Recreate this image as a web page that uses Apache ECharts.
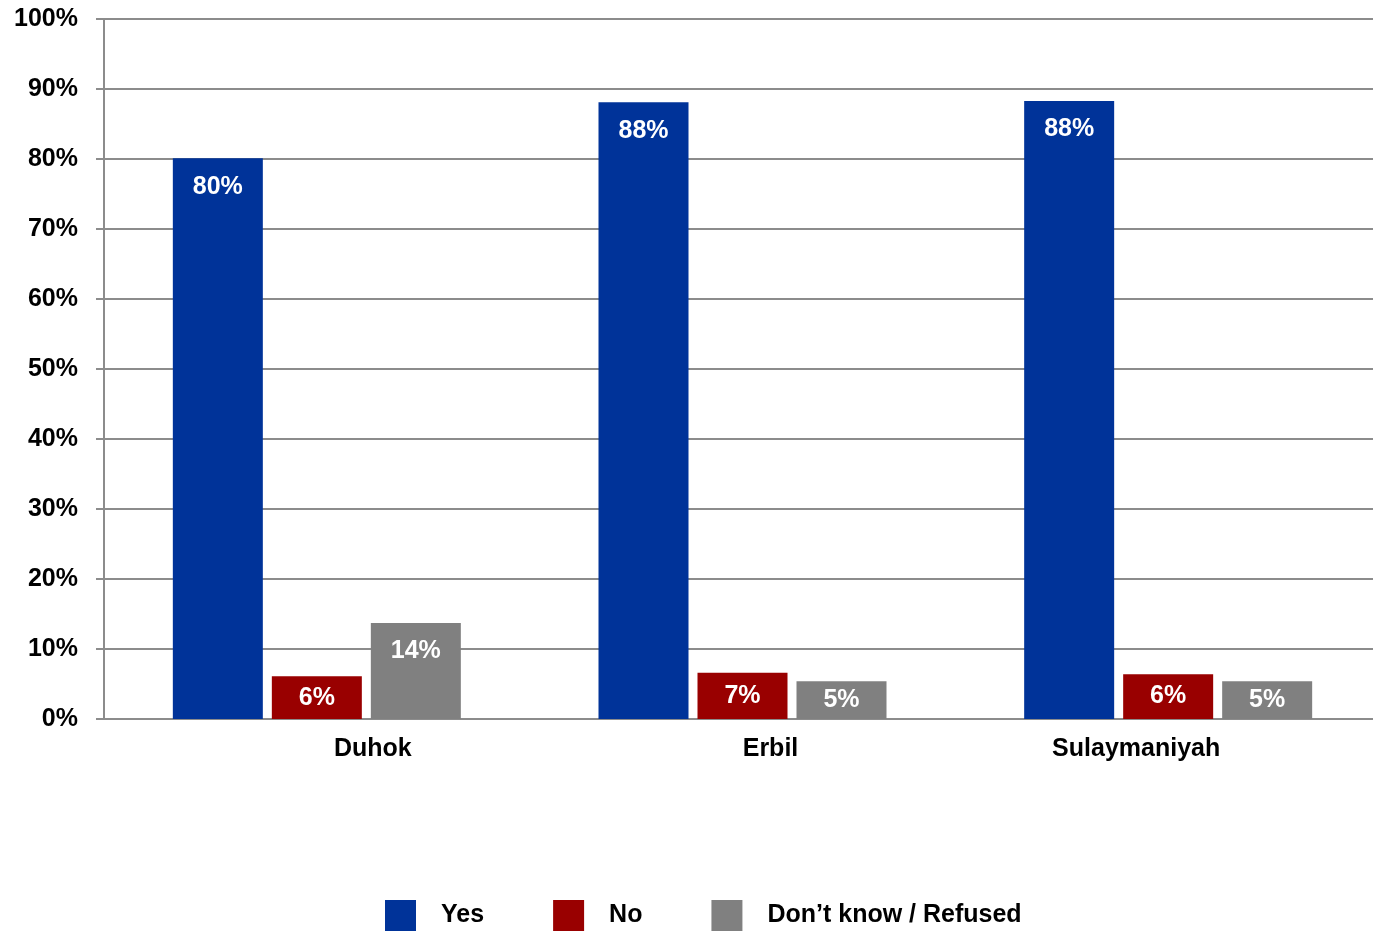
<!DOCTYPE html>
<html>
<head>
<meta charset="utf-8">
<script src="https://cdn.jsdelivr.net/npm/echarts@6/dist/echarts.min.js"></script>
<style>html,body{margin:0;padding:0;background:#fff;}#c{width:1373px;height:931px;}</style>
</head>
<body>
<div id="c"></div>
<script>
var categories = ['Duhok', 'Erbil', 'Sulaymaniyah'];
var seriesNames = ['Yes', 'No', 'Don\u2019t know / Refused'];
var yesValues = [80.1, 88.1, 88.3];
var noValues = [6.1, 6.6, 6.4];
var dkValues = [13.7, 5.4, 5.4];
var displayLabels = [['80%', '88%', '88%'], ['6%', '7%', '6%'], ['14%', '5%', '5%']];
var colors = ['#003399', '#990000', '#808080'];
var labelShift = {Duhok: 112, Erbil: 56, Sulaymaniyah: -64};

var font = 'Liberation Sans, Arial, sans-serif';
var fs = 25;

function makeSeries(idx, vals) {
  return {
    name: seriesNames[idx],
    type: 'bar',
    barWidth: 90,
    barGap: '10%',
    itemStyle: { color: colors[idx] },
    data: vals.map(function (v, i) {
      return {
        value: v,
        label: {
          show: true,
          position: v > 10 ? 'insideTop' : 'inside',
          distance: 16,
          formatter: displayLabels[idx][i],
          color: '#fff',
          fontWeight: 'bold',
          fontSize: fs,
          fontFamily: font
        }
      };
    })
  };
}

var chart = echarts.init(document.getElementById('c'), null, { renderer: 'canvas' });
var rich = {};
categories.forEach(function (c, i) {
  var s = labelShift[c];
  rich['c' + i] = {
    fontWeight: 'bold', fontSize: fs, fontFamily: font, color: '#000',
    padding: s >= 0 ? [0, 0, 0, s] : [0, -s, 0, 0]
  };
});
chart.setOption({
  animation: false,
  grid: { left: 104, width: 1277, top: 19, height: 700, outerBoundsMode: 'none', containLabel: false },
  legend: {
    left: 385,
    top: 900,
    padding: 0,
    itemWidth: 31,
    itemHeight: 31,
    itemGap: 69,
    icon: 'rect',
    textStyle: { fontWeight: 'bold', fontSize: fs, fontFamily: font, color: '#000', padding: [4, 0, 0, 20] },
    data: seriesNames
  },
  xAxis: {
    type: 'category',
    data: categories,
    axisLine: { lineStyle: { color: '#8c8c8c', width: 2 } },
    axisTick: { show: false },
    axisLabel: {
      margin: 18,
      formatter: function (v) { return '{c' + categories.indexOf(v) + '|' + v + '}'; },
      rich: rich
    }
  },
  yAxis: {
    type: 'value',
    min: 0, max: 100, interval: 10,
    axisLine: { show: true, lineStyle: { color: '#8c8c8c', width: 2 } },
    axisTick: { show: true, length: 8, lineStyle: { color: '#8c8c8c', width: 2 } },
    splitLine: { lineStyle: { color: '#8c8c8c', width: 2 } },
    axisLabel: {
      margin: 26,
      formatter: '{value}%',
      color: '#000',
      fontWeight: 'bold',
      fontSize: fs,
      fontFamily: font
    }
  },
  series: [makeSeries(0, yesValues), makeSeries(1, noValues), makeSeries(2, dkValues)]
});
</script>
</body>
</html>
